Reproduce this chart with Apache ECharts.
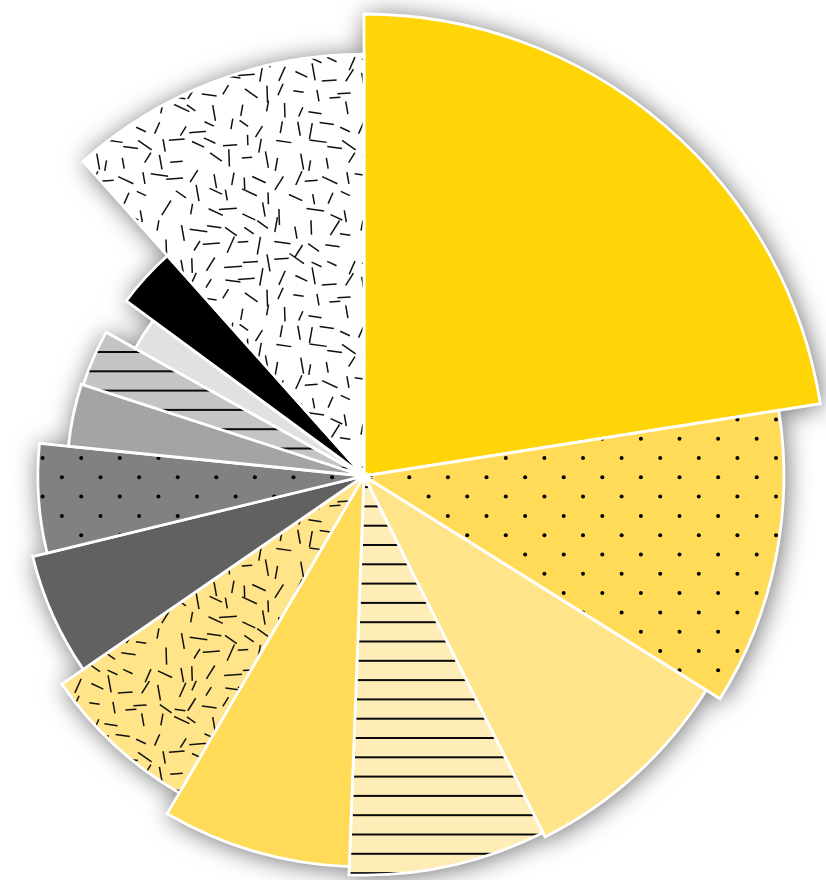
<!DOCTYPE html>
<html>
<head>
<meta charset="utf-8">
<script src="https://cdn.jsdelivr.net/npm/echarts@6/dist/echarts.min.js"></script>
<style>
  html, body { margin: 0; padding: 0; background: #ffffff; }
  #chart { width: 826px; height: 880px; }
</style>
</head>
<body>
<div id="chart"></div>
<script>
// Slice names, angular share (percent of the circle) and radius score (0-100)
const categories = ['A', 'B', 'C', 'D', 'E', 'F', 'G', 'H', 'I', 'J', 'K', 'L', 'M'];
const shares = [22.5, 11.4, 8.7, 8.0, 7.8, 7.0, 5.8, 5.4, 3.4, 3.1, 2.0, 3.3, 11.6];
const radii  = [100, 90.9, 87.4, 86.4, 84.6, 79.4, 73.8, 70.6, 64.3, 63.9, 56.7, 63.9, 91.3];

// Fill colour and texture for each slice
const palette = ['#FFD507', '#FFDB58', '#FFE48A', '#FFEDB8', '#FFDB58', '#FFE48A',
                 '#616161', '#818181', '#A4A4A4', '#C4C4C4', '#E1E1E1', '#000000', '#FFFFFF'];
const textures = ['solid', 'dots', 'solid', 'lines', 'solid', 'dashes',
                  'solid', 'dots', 'solid', 'lines', 'solid', 'solid', 'dashes'];

// ---- texture tiles ----
function makeTile(w, h, bg, paint) {
  const c = document.createElement('canvas');
  c.width = w; c.height = h;
  const g = c.getContext('2d');
  g.fillStyle = bg;
  g.fillRect(0, 0, w, h);
  paint(g, w, h);
  return c;
}

// staggered dot lattice
function dotTile(bg) {
  const step = 19.3;
  return makeTile(193, 193, bg, g => {
    g.fillStyle = '#000';
    for (let u = -2; u <= 12; u++) {
      for (let v = -2; v <= 12; v++) {
        if (Math.abs(u + v) % 2 !== 0) continue;
        const x = 23.3 + step * u, y = 14.1 + step * v;
        g.beginPath();
        g.arc(x, y, 2.0, 0, Math.PI * 2);
        g.fill();
      }
    }
  });
}

// horizontal rules
function lineTile(bg) {
  const step = 19.3;
  return makeTile(16, 193, bg, g => {
    g.fillStyle = '#0a0a0a';
    for (let k = -1; k <= 11; k++) {
      const y = 4.6 + step * k;
      g.fillRect(0, y - 1, 16, 2);
    }
  });
}

// short strokes on a jittered grid (seeded so the texture is stable)
function seeded(seed) {
  let s = seed >>> 0;
  return () => (s = (Math.imul(s, 1664525) + 1013904223) >>> 0) / 4294967296;
}
function dashTile(bg) {
  const cell = 17, n = 12, size = cell * n;
  const rnd = seeded(17);
  const angles = [-4, 8, 25, 35, -58, -66, 80, 88, 100];
  return makeTile(size, size, bg, g => {
    g.strokeStyle = '#111';
    g.lineWidth = 1.5;
    for (let i = 0; i < n; i++) {
      for (let j = 0; j < n; j++) {
        const skip = rnd() < 0.1;
        const x = (i + 0.5) * cell + (rnd() - 0.5) * 10;
        const y = (j + 0.5) * cell + (rnd() - 0.5) * 10;
        const a = angles[Math.floor(rnd() * angles.length)] * Math.PI / 180;
        const len = 10 + rnd() * 8;
        if (skip) continue;
        const dx = Math.cos(a) * len / 2, dy = Math.sin(a) * len / 2;
        for (const ox of [-size, 0, size]) {
          for (const oy of [-size, 0, size]) {
            g.beginPath();
            g.moveTo(x + ox - dx, y + oy - dy);
            g.lineTo(x + ox + dx, y + oy + dy);
            g.stroke();
          }
        }
      }
    }
  });
}

function fillFor(i) {
  const bg = palette[i];
  switch (textures[i]) {
    case 'dots':   return { image: dotTile(bg), repeat: 'repeat' };
    case 'lines':  return { image: lineTile(bg), repeat: 'repeat' };
    case 'dashes': return { image: dashTile(bg), repeat: 'repeat' };
    default:       return bg;
  }
}
const fills = palette.map((_, i) => fillFor(i));

// ---- sector data: [start, end, radius, index] ----
let total = 0;
const sectors = shares.map((v, i) => {
  const d = [total, total + v, radii[i], i];
  total += v;
  return d;
});

function sectorShape(params, api) {
  const cs = params.coordSys;
  const a = api.coord([api.value(2), api.value(0)]);
  const b = api.coord([api.value(2), api.value(1)]);
  let start = Math.atan2(a[1] - cs.cy, a[0] - cs.cx);
  let end = Math.atan2(b[1] - cs.cy, b[0] - cs.cx);
  while (end <= start) end += Math.PI * 2;
  return {
    cx: cs.cx, cy: cs.cy, r0: 0,
    r: Math.hypot(a[0] - cs.cx, a[1] - cs.cy),
    startAngle: start, endAngle: end, clockwise: true
  };
}

const chart = echarts.init(document.getElementById('chart'));
chart.setOption({
  animation: false,
  backgroundColor: '#ffffff',
  polar: { center: [364, 476], radius: 462 },
  angleAxis: { type: 'value', min: 0, max: total, startAngle: 90, clockwise: true, show: false },
  radiusAxis: { type: 'value', min: 0, max: 100, show: false },
  series: [
    {
      // soft drop shadow under the whole rose
      type: 'custom',
      coordinateSystem: 'polar',
      z: 1,
      silent: true,
      data: sectors,
      renderItem: (params, api) => ({
        type: 'sector',
        shape: sectorShape(params, api),
        style: {
          fill: '#ffffff',
          shadowBlur: 26,
          shadowColor: 'rgba(0,0,0,0.6)',
          shadowOffsetX: 2,
          shadowOffsetY: 2
        }
      })
    },
    {
      type: 'custom',
      coordinateSystem: 'polar',
      z: 2,
      data: sectors,
      renderItem: (params, api) => ({
        type: 'sector',
        shape: sectorShape(params, api),
        style: {
          fill: fills[api.value(3)],
          stroke: '#ffffff',
          lineWidth: 2.8
        }
      })
    }
  ]
});
</script>
</body>
</html>
